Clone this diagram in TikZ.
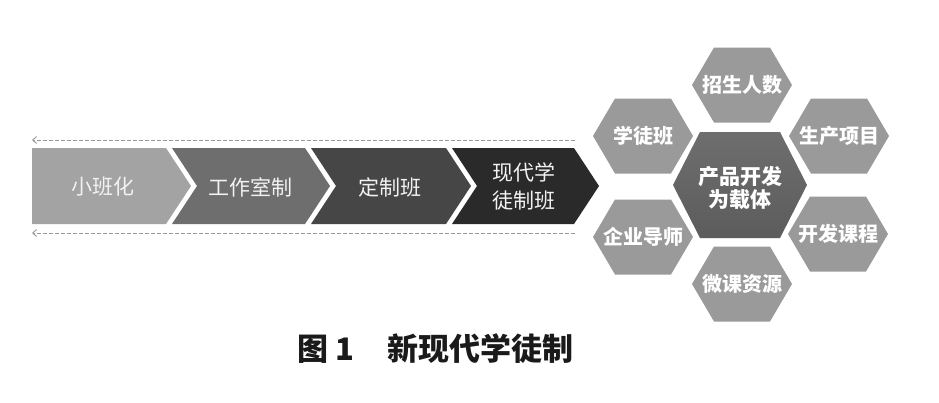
\documentclass[tikz,border=0pt]{standalone}
\usepackage{fontspec}
\usetikzlibrary{arrows.meta}
\newfontfamily\cjk{Noto Sans CJK SC}
\definecolor{cA}{HTML}{A3A3A3}
\definecolor{cB}{HTML}{6E6E6E}
\definecolor{cC}{HTML}{464646}
\definecolor{cD}{HTML}{2A2A2A}
\definecolor{hexo}{HTML}{9A9A9A}
\definecolor{hexcT}{HTML}{6E6E6E}
\definecolor{hexcB}{HTML}{5C5C5C}
\definecolor{dashgray}{HTML}{999999}
\definecolor{captxt}{HTML}{1A1A1A}
\newcommand\outerhex[4]{%
  \fill[hexo,shift={(#1,#2)}] (-50,0) -- (-28,-37.5) -- (28,-37.5) -- (50,0) -- (28,37.5) -- (-28,37.5) -- cycle;
  \node[hextxt] (#3) at (#1,#2) {#4};}
\begin{document}
\begin{tikzpicture}[x=1bp,y=-1bp]
\tikzset{
  chevtxt/.style={text=white!95!black, font=\cjk\fontsize{21bp}{28bp}\selectfont, align=center, inner sep=0pt},
  hextxt/.style={text=white, font=\cjk\bfseries\fontsize{20bp}{23bp}\selectfont, align=center, inner sep=0pt},
  centtxt/.style={text=white, font=\cjk\bfseries\fontsize{21bp}{23bp}\selectfont, align=center, inner sep=0pt},
  captxtstyle/.style={text=captxt, font=\cjk\bfseries\fontsize{31bp}{36bp}\selectfont, inner sep=0pt},
  dashline/.style={draw=dashgray, line width=0.9bp, dash pattern=on 4bp off 2bp, -{Straight Barb[length=4bp,width=7bp]}},
}
\useasboundingbox (0,0) rectangle (939,402);
\fill[white] (0,0) rectangle (939,402);

% dashed arrows
\coordinate (tS) at (575,140);
\coordinate (tE) at (32,140);
\coordinate (bS) at (575,233);
\coordinate (bE) at (32,233);
\draw[dashline] (tS) -- (tE);
\draw[dashline] (bS) -- (bE);

% chevrons
\fill[cA] (32,148) -- (166,148) -- (191,186) -- (166,224) -- (32,224) -- cycle;
\fill[cB] (172,148) -- (305,148) -- (330,186) -- (305,224) -- (172,224) -- (197,186) -- cycle;
\fill[cC] (311,148) -- (446,148) -- (471,186) -- (446,224) -- (311,224) -- (336,186) -- cycle;
\fill[cD] (452,148) -- (574,148) -- (599,186) -- (574,224) -- (452,224) -- (477,186) -- cycle;
\node[chevtxt] (s1) at (103,187) {小班化};
\node[chevtxt] (s2) at (250,187) {工作室制};
\node[chevtxt] (s3) at (390,187) {定制班};
\node[chevtxt] (s4) at (524,186) {现代学\\徒制班};

% centre hexagon
\shade[top color=hexcT, bottom color=hexcB] (673,185) -- (700,132) -- (780,132) -- (807,185) -- (780,238) -- (700,238) -- cycle;
\node[centtxt] (core) at (740,188) {产品开发\\为载体};

% outer hexagons
\outerhex{742}{85}{h1}{招生人数}
\outerhex{643}{136}{h2}{学徒班}
\outerhex{839}{136}{h3}{生产项目}
\outerhex{643}{237}{h4}{企业导师}
\outerhex{838}{234}{h5}{开发课程}
\outerhex{742}{284}{h6}{微课资源}

% caption
\node[captxtstyle, anchor=west] (capA) at (297,349) {图 1};
\node[captxtstyle, anchor=west] (capB) at (387,349) {新现代学徒制};
\end{tikzpicture}
\end{document}
